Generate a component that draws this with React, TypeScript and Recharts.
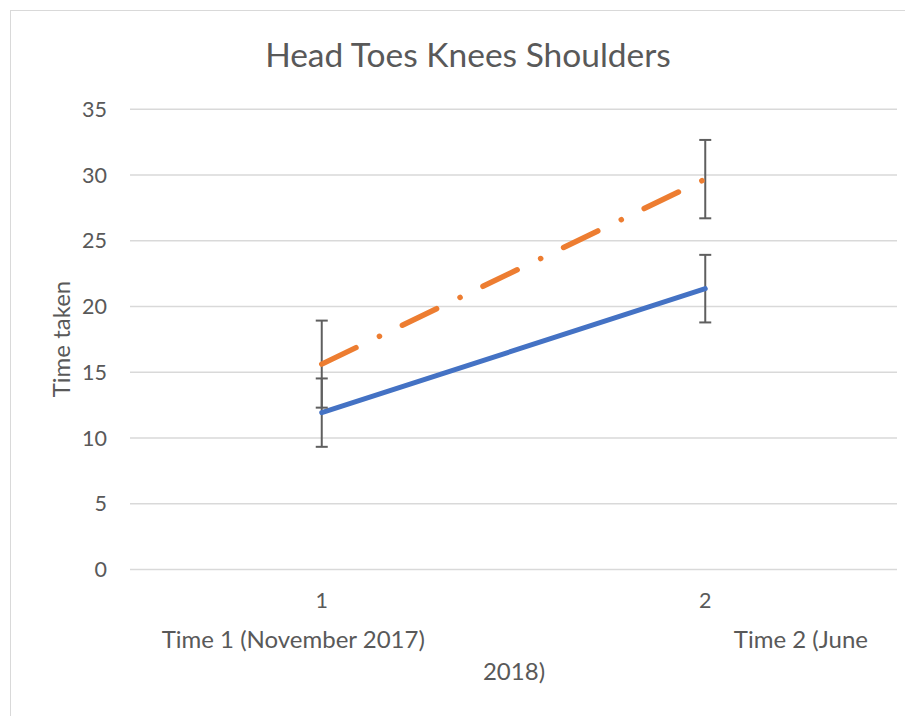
import { LineChart, Line, XAxis, YAxis, CartesianGrid, ErrorBar } from "recharts";

const categories = ["1", "2"];
const blueValues = [11.93, 21.36];
const blueErrors = [2.6, 2.57];
const orangeValues = [15.62, 29.69];
const orangeErrors = [3.31, 2.98];
const yTicks = [0, 5, 10, 15, 20, 25, 30, 35];

const data = categories.map((cat, i) => ({
  cat,
  blue: blueValues[i],
  blueErr: blueErrors[i],
  orange: orangeValues[i],
  orangeErr: orangeErrors[i],
}));

const FONT = "Lato, 'Open Sans', sans-serif";
const TEXT = "#595959";

export default function App() {
  return (
    <div style={{ position: "relative", width: 905, height: 708, overflow: "hidden", fontFamily: FONT }}>
      <div
        style={{
          position: "absolute",
          left: 2,
          top: 2,
          width: 930,
          height: 740,
          border: "1.5px solid #d9d9d9",
        }}
      />
      <LineChart
        width={905}
        height={708}
        data={data}
        margin={{ top: 101.3, right: 16, bottom: 106.5, left: 62 }}
        style={{ position: "absolute", left: 0, top: 0 }}
      >
        <CartesianGrid vertical={false} stroke="#d9d9d9" strokeWidth={1.5} />
        <XAxis
          dataKey="cat"
          axisLine={false}
          tickLine={false}
          tickSize={0}
          tickMargin={23.5}
          height={40}
          padding={{ left: 191.75, right: 191.75 }}
          tick={{ fill: TEXT, fontSize: 21.5, fontFamily: FONT }}
        />
        <YAxis
          domain={[0, 35]}
          ticks={yTicks}
          axisLine={false}
          tickLine={false}
          tickSize={0}
          tickMargin={23}
          width={60}
          tick={{ fill: TEXT, fontSize: 21.5, fontFamily: FONT }}
        />
        <Line
          dataKey="blue"
          stroke="#4472c4"
          strokeWidth={5}
          strokeLinecap="round"
          dot={false}
          isAnimationActive={false}
        >
          <ErrorBar dataKey="blueErr" width={6} stroke="#5f5f5f" strokeWidth={2} direction="y" />
        </Line>
        <Line
          dataKey="orange"
          stroke="#ed7d31"
          strokeWidth={5.5}
          strokeLinecap="round"
          strokeDasharray="38 26 0.1 25.4"
          dot={false}
          isAnimationActive={false}
        >
          <ErrorBar dataKey="orangeErr" width={6} stroke="#5f5f5f" strokeWidth={2} direction="y" />
        </Line>
        <text x={460} y={59} textAnchor="middle" fill={TEXT} fontSize={33.5} fontFamily={FONT}>
          Head Toes Knees Shoulders
        </text>
        <text
          transform="translate(62, 331) rotate(-90)"
          textAnchor="middle"
          fill={TEXT}
          fontSize={24}
          fontFamily={FONT}
        >
          Time taken
        </text>
        <text x={153.7} y={640.3} textAnchor="start" fill={TEXT} fontSize={24} fontFamily={FONT}>
          Time 1 (November 2017)
        </text>
        <text x={860} y={640.3} textAnchor="end" fill={TEXT} fontSize={24} fontFamily={FONT}>
          Time 2 (June
        </text>
        <text x={506} y={672} textAnchor="middle" fill={TEXT} fontSize={24} fontFamily={FONT}>
          2018)
        </text>
      </LineChart>
    </div>
  );
}
